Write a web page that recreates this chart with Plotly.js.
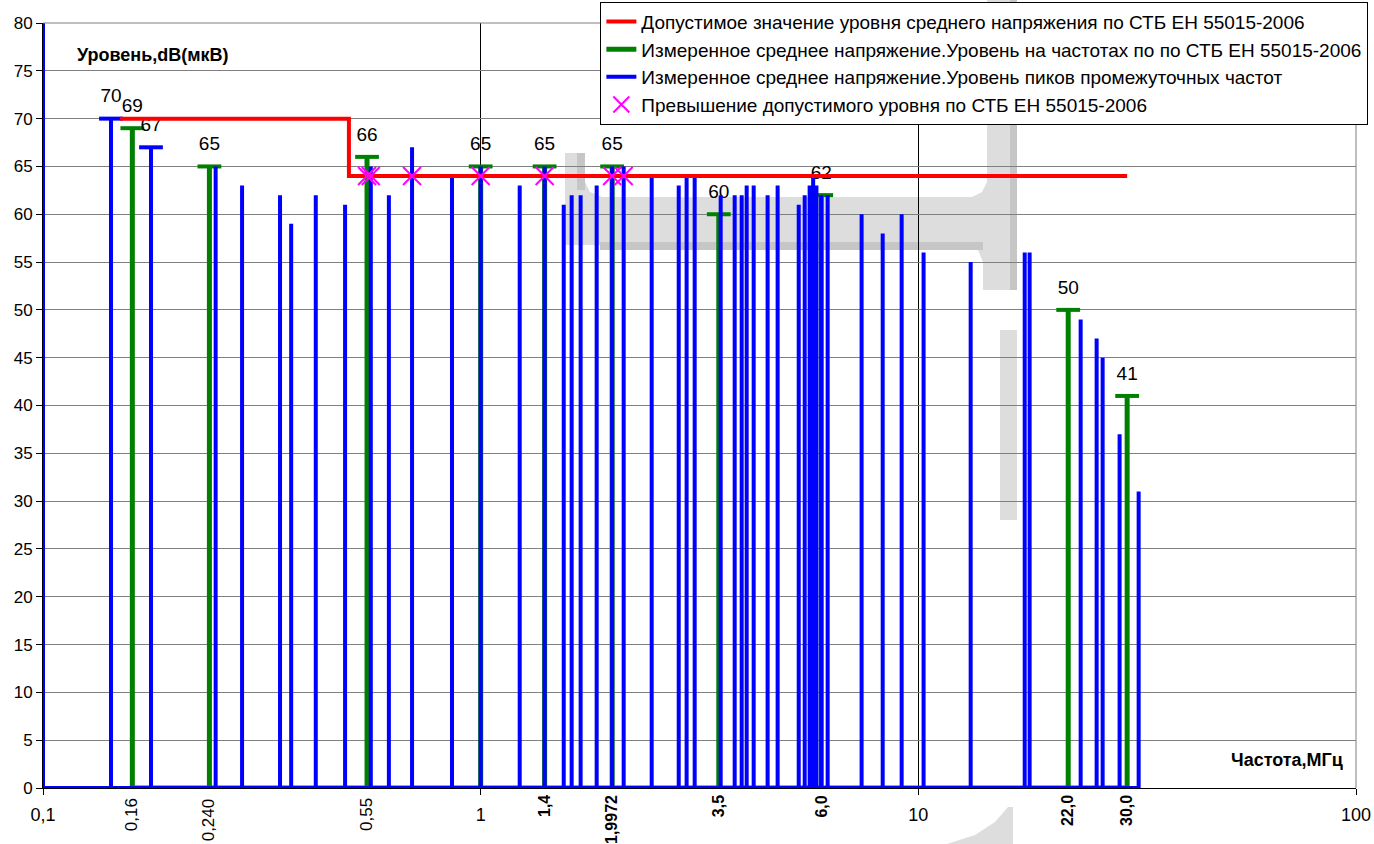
<!DOCTYPE html>
<html>
<head>
<meta charset="utf-8">
<script src="https://cdn.plot.ly/plotly-3.0.1.min.js"></script>
<style>html,body{margin:0;padding:0;background:#fff;}#chart{width:1374px;height:844px;}</style>
</head>
<body>
<div id="chart"></div>
<script>
// ---- data (frequency in MHz, level in dB(µV)) ----
const limitFreq = [0.15, 0.5, 0.5, 30];
const limitLevel = [70, 70, 64, 64];

const greenFreq = [0.16, 0.24, 0.55, 1.0, 1.4, 1.9972, 3.5, 6.0, 22.0, 30.0];
const greenLevel = [69, 65, 66, 65, 65, 65, 60, 62, 50, 41];
const greenTickText = ["0,16", "0,240", "0,55", "", "1,4", "1,9972", "3,5", "6,0", "22,0", "30,0"];
const greenTickBold = [false, false, false, false, true, true, true, true, true, true];

const blueFreq = [0.1, 0.143, 0.1765, 0.248, 0.285, 0.348, 0.369, 0.42, 0.49, 0.561, 0.617, 0.697, 0.86,
  1.0, 1.228, 1.4, 1.548, 1.614, 1.692, 1.841, 1.9972, 2.122, 2.459, 2.835, 2.955, 3.083,
  3.535, 3.805, 3.948, 4.053, 4.205, 4.525, 4.77, 5.33, 5.50, 5.645, 5.75, 5.85, 6.0, 6.206,
  7.42, 8.29, 9.16, 10.28, 13.17, 17.5, 17.96, 23.49, 25.55, 26.37, 28.83, 31.87];
const blueLevel = [80, 70, 67, 65, 63, 62, 59, 62, 61, 65, 62, 67, 64,
  65, 63, 65, 61, 62, 62, 63, 65, 65, 64, 63, 64, 64,
  62, 62, 62, 63, 63, 62, 63, 61, 62, 63, 64, 63, 62, 62,
  60, 58, 60, 56, 55, 56, 56, 49, 47, 45, 37, 31];
const blueLabelFreq = [0.143, 0.1765];
const blueLabelLevel = [70, 67];

const exceedFreq = [0.55, 0.561, 0.697, 1.0, 1.4, 1.9972, 2.122];
const exceedLevel = [64, 64, 64, 64, 64, 64, 64];

const xTickVals = [0.1, 1, 10, 100];
const xTickText = ["0,1", "1", "10", "100"];
const yTickVals = [0, 5, 10, 15, 20, 25, 30, 35, 40, 45, 50, 55, 60, 65, 70, 75, 80];

const legendNames = [
  "Допустимое значение уровня среднего напряжения по СТБ ЕН 55015-2006",
  "Измеренное среднее напряжение.Уровень на частотах по по СТБ ЕН 55015-2006",
  "Измеренное среднее напряжение.Уровень пиков промежуточных частот",
  "Превышение допустимого уровня по СТБ ЕН 55015-2006"
];
const yTitle = "Уровень,dB(мкВ)";
const xTitle = "Частота,МГц";

// ---- build spike paths from the data ----
function spikes(freq, level) {
  const xs = [], ys = [];
  for (let i = 0; i < freq.length; i++) {
    xs.push(freq[i], freq[i], freq[i]);
    ys.push(0, level[i], 0);
  }
  return {x: xs, y: ys};
}
const g = spikes(greenFreq, greenLevel);
const b = spikes(blueFreq, blueLevel);

const FONT = "Liberation Sans, Arial, sans-serif";

const traces = [
  {x: g.x, y: g.y, type: "scatter", mode: "lines", name: legendNames[1],
   line: {color: "#008000", width: 5}, legendrank: 2},
  {x: greenFreq, y: greenLevel, type: "scatter", mode: "markers+text", showlegend: false,
   marker: {symbol: "line-ew", size: 17, line: {color: "#008000", width: 4}},
   text: greenLevel.map(String), textposition: "top center",
   textfont: {family: FONT, size: 19, color: "#000"}, hoverinfo: "skip"},
  {x: b.x, y: b.y, type: "scatter", mode: "lines", name: legendNames[2],
   line: {color: "#0000ff", width: 4}, legendrank: 3},
  {x: blueLabelFreq, y: blueLabelLevel, type: "scatter", mode: "markers+text", showlegend: false,
   marker: {symbol: "line-ew", size: 17, line: {color: "#0000ff", width: 4}},
   text: blueLabelLevel.map(String), textposition: "top center",
   textfont: {family: FONT, size: 19, color: "#000"}, hoverinfo: "skip"},
  {x: limitFreq, y: limitLevel, type: "scatter", mode: "lines", name: legendNames[0],
   line: {color: "#ff0000", width: 4}, legendrank: 1},
  {x: exceedFreq, y: exceedLevel, type: "scatter", mode: "markers", name: legendNames[3],
   marker: {symbol: "x-thin-open", size: 18, line: {color: "#ff00ff", width: 2}, color: "#ff00ff"},
   legendrank: 4}
];

const annotations = [];
greenFreq.forEach((f, i) => {
  if (!greenTickText[i]) return;
  annotations.push({
    x: Math.log10(f), xref: "x", y: greenTickBold[i] ? -0.007 : -0.011, yref: "paper",
    text: greenTickBold[i] ? "<b>" + greenTickText[i] + "</b>" : greenTickText[i],
    textangle: -90, showarrow: false, xanchor: "center", yanchor: "top",
    font: {family: FONT, size: greenTickBold[i] ? 16 : 17, color: "#000"}
  });
});
annotations.push({
  x: 0.024, xref: "paper", y: 0.958, yref: "paper", xanchor: "left", yanchor: "middle",
  text: "<b>" + yTitle + "</b>", showarrow: false, font: {family: FONT, size: 18, color: "#000"}
});
annotations.push({
  x: 0.992, xref: "paper", y: 0.036, yref: "paper", xanchor: "right", yanchor: "middle",
  text: "<b>" + xTitle + "</b>", showarrow: false, font: {family: FONT, size: 18, color: "#000"}
});

// ---- faint background watermark (decorative), given in page pixels ----
const PL = 43, PW = 1313, PB = 788, PH = 765;
function pathPx(pts) {
  return pts.map((p, i) => (i ? "L" : "M") + ((p[0] - PL) / PW).toFixed(5) + "," + ((PB - p[1]) / PH).toFixed(5)).join(" ") + " Z";
}
const wmLight = "#dddddd", wmDark = "#c6c6c6";
const wmShapes = [
  [[565,153],[585,153],[585,182],[590,192],[602,197],[972,197],[982,192],[987,182],[987,0],[1017,0],[1017,290],[983,290],[983,262],[978,250],[966,245],[565,245]],
  [[600,242],[983,242],[983,250],[600,250]],
  [[1010,0],[1017,0],[1017,290],[1010,290]],
  [[577,153],[585,153],[585,190],[577,190]],
  [[1000,330],[1017,330],[1017,520],[1000,520]],
  [[1008,807],[1013,807],[1013,844],[947,844],[975,835],[995,822]]
];
const wmColors = [wmLight, wmDark, wmDark, wmDark, wmLight, wmLight];
const shapes = wmShapes.map((pts, i) => ({
  type: "path", xref: "paper", yref: "paper", path: pathPx(pts), layer: "below",
  fillcolor: wmColors[i], line: {width: 0}
}));
shapes.push({type: "line", xref: "paper", yref: "paper", x0: 1, x1: 1, y0: 0, y1: 1, line: {color: "#808080", width: 1}});
shapes.push({type: "line", xref: "paper", yref: "paper", x0: 0, x1: 1, y0: 1, y1: 1, line: {color: "#808080", width: 1}});

const layout = {
  width: 1374, height: 844,
  margin: {l: 43, r: 18, t: 23, b: 56, autoexpand: false},
  paper_bgcolor: "#fff", plot_bgcolor: "rgba(0,0,0,0)",
  font: {family: FONT, size: 18, color: "#000"},
  showlegend: true,
  legend: {x: 0.4245, xanchor: "left", y: 1.028, yanchor: "top",
    bgcolor: "#fff", bordercolor: "#000", borderwidth: 1,
    font: {family: FONT, size: 19, color: "#000"}, tracegroupgap: 0, itemwidth: 30},
  xaxis: {type: "log", range: [-1, 2], tickvals: xTickVals, ticktext: xTickText,
    showgrid: true, gridcolor: "#000", gridwidth: 1, zeroline: false,
    showline: true, linecolor: "#000", linewidth: 1, ticks: "outside", ticklen: 6, tickcolor: "#000",
    ticklabelstandoff: 4, tickfont: {family: FONT, size: 18, color: "#000"}},
  yaxis: {range: [0, 80], tickvals: yTickVals, showgrid: true, gridcolor: "#808080", gridwidth: 1,
    zeroline: false, showline: true, linecolor: "#000", linewidth: 1, ticks: "outside", ticklen: 6,
    tickcolor: "#000", tickfont: {family: FONT, size: 17, color: "#000"}},
  shapes: shapes,
  annotations: annotations
};

Plotly.newPlot("chart", traces, layout, {displayModeBar: false, staticPlot: true});
</script>
</body>
</html>
